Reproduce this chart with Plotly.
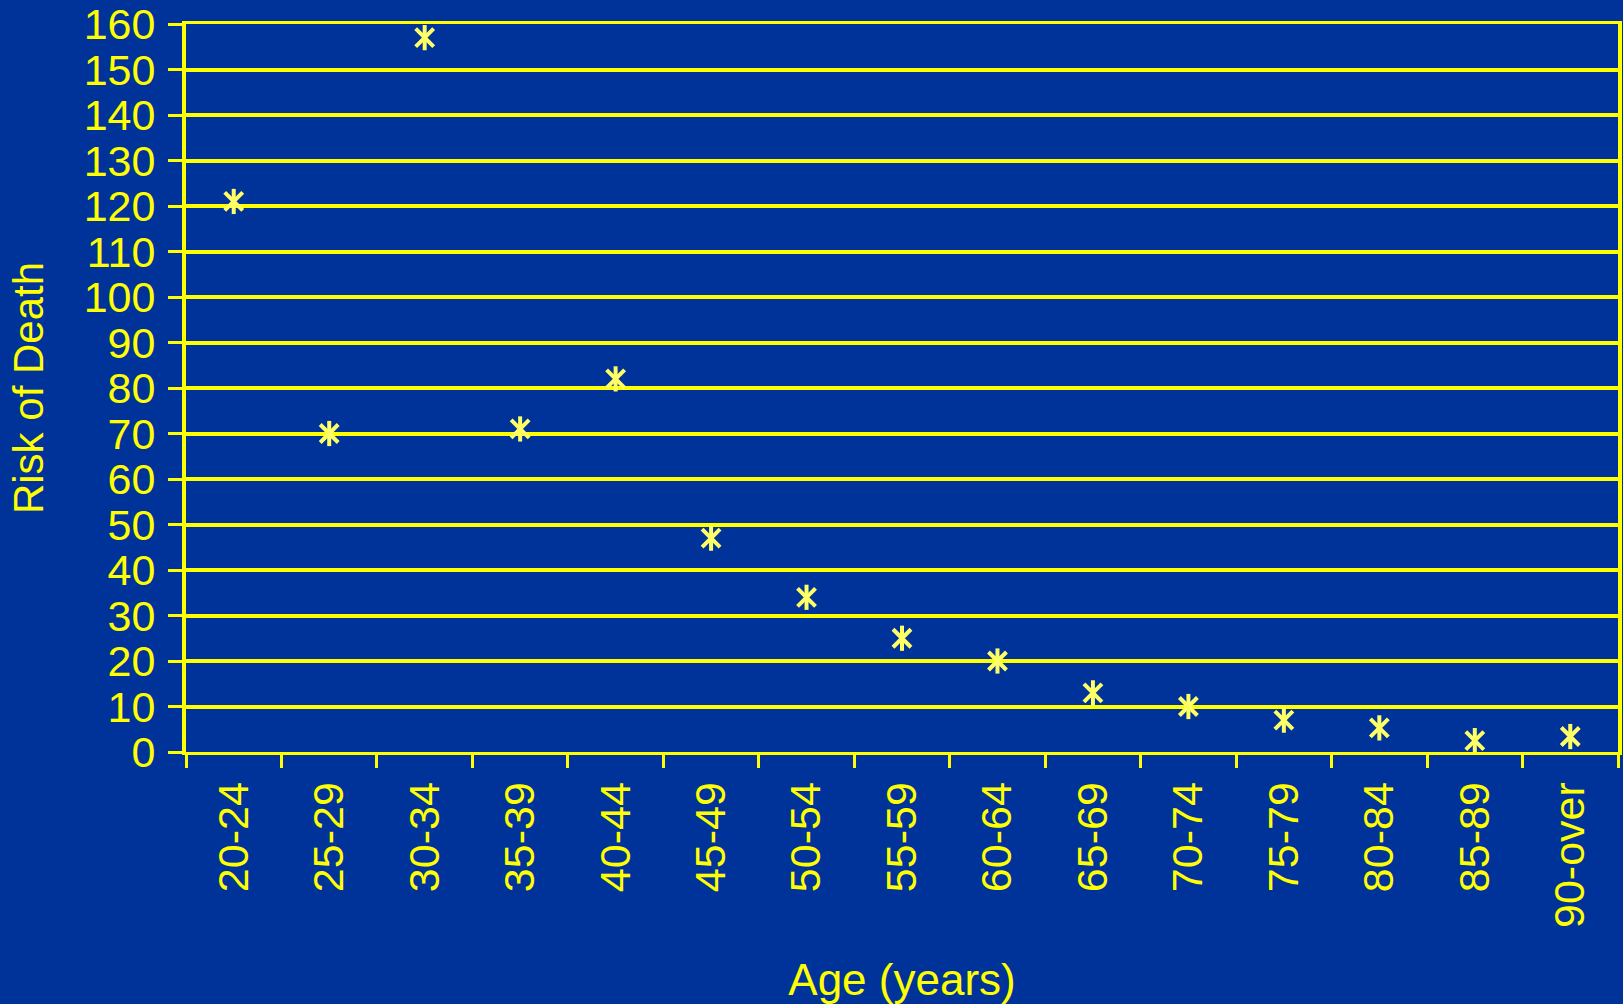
import plotly.graph_objects as go

# Risk of death by age group
age_groups = ["20-24", "25-29", "30-34", "35-39", "40-44", "45-49", "50-54",
              "55-59", "60-64", "65-69", "70-74", "75-79", "80-84", "85-89",
              "90-over"]
risk_of_death = [121, 70, 157, 71, 82, 47, 34, 25, 20, 13, 10, 7, 5.3, 2.5, 3.4]
y_ticks = list(range(0, 161, 10))

BG = "#003399"
YELLOW = "#FFFF00"
MARKER = "#FFFF66"
FONT = "Liberation Sans, Arial, sans-serif"

fig = go.Figure()

# The asterisk marker is an X with a vertical stroke through it
fig.add_trace(go.Scatter(
    x=age_groups, y=risk_of_death, mode="markers",
    marker=dict(symbol="x-thin-open", size=18, color=MARKER,
                line=dict(color=MARKER, width=4)),
    hoverinfo="skip", showlegend=False,
))
fig.add_trace(go.Scatter(
    x=age_groups, y=risk_of_death, mode="markers",
    marker=dict(symbol="line-ns-open", size=18, color=MARKER,
                line=dict(color=MARKER, width=4)),
    showlegend=False,
))

fig.update_layout(
    width=1623, height=1004,
    paper_bgcolor=BG, plot_bgcolor=BG,
    margin=dict(l=186, r=5, t=24, b=252),
    font=dict(family=FONT, color=YELLOW, size=43),
    xaxis=dict(
        type="category", categoryorder="array", categoryarray=age_groups,
        range=[-0.5, len(age_groups) - 0.5],
        tickson="boundaries", ticks="outside", ticklen=13, tickwidth=3,
        tickcolor=YELLOW, tickangle=-90, tickfont=dict(size=43, color=YELLOW),
        ticklabelstandoff=10,
        showline=True, linecolor=YELLOW, linewidth=3, mirror=True,
        showgrid=False, zeroline=False,
        title=dict(text="Age (years)", font=dict(size=44, color=YELLOW), standoff=50),
        automargin=False,
    ),
    yaxis=dict(
        range=[0, 160], tickvals=y_ticks, ticktext=[str(v) for v in y_ticks],
        ticks="outside", ticklen=14, tickwidth=3, tickcolor=YELLOW,
        tickfont=dict(size=43, color=YELLOW), ticklabelstandoff=4,
        showline=True, linecolor=YELLOW, linewidth=4, mirror=True,
        showgrid=True, gridcolor=YELLOW, gridwidth=3.5, zeroline=False,
        title=dict(text="Risk of Death", font=dict(size=42, color=YELLOW), standoff=28),
        automargin=False,
    ),
)

fig.write_html("out.html")
